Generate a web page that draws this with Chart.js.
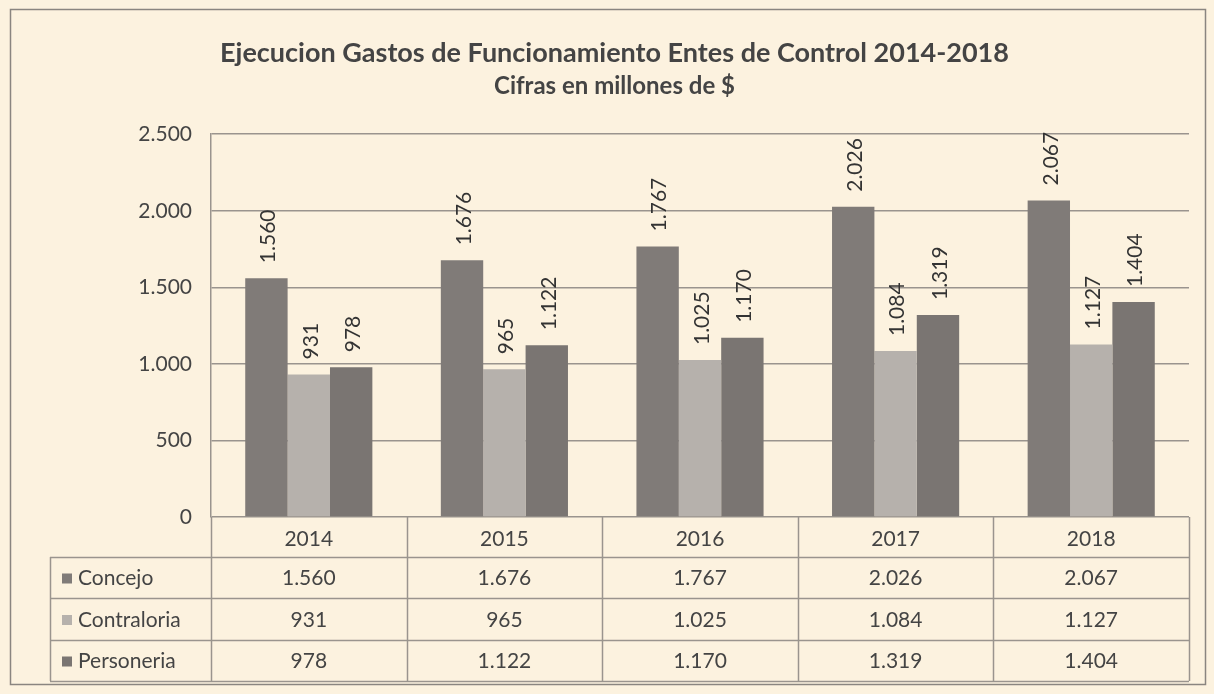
<!DOCTYPE html>
<html>
<head>
    <meta charset='utf-8'>
    <title>Ejecucion Gastos de Funcionamiento</title>
    <style>
        body { margin: 0; background: #fcf2df; }
    </style>
</head>
<body>
    <div style="width: 1214px; height: 694px;">
        <canvas id="chart-gastos" width="1214" height="694"></canvas>
    </div>

    <script src="https://cdn.jsdelivr.net/npm/chart.js"></script>
    <script>
const years = ['2014', '2015', '2016', '2017', '2018'];
const concejo = [1560, 1676, 1767, 2026, 2067];
const contraloria = [931, 965, 1025, 1084, 1127];
const personeria = [978, 1122, 1170, 1319, 1404];
const seriesNames = ['Concejo', 'Contraloria', 'Personeria'];
const seriesColors = ['#807b78', '#b6b1ac', '#7a7572'];

const FONT = 'Lato, "Open Sans", sans-serif';
const TEXT = '#444';
const LINE = '#9a948e';

// 1560 -> "1.560"
const fmt = (v) => String(v).replace(/\B(?=(\d{3})+(?!\d))/g, '.');

const fondo = {
    id: 'fondo',
    beforeDraw(chart) {
        const ctx = chart.ctx;
        ctx.save();
        ctx.fillStyle = '#fcf2df';
        ctx.fillRect(0, 0, chart.width, chart.height);
        ctx.strokeStyle = '#8a8580';
        ctx.lineWidth = 1.5;
        ctx.strokeRect(10.5, 9.5, 1195, 675);
        ctx.restore();
    }
};

const etiquetas = {
    id: 'etiquetas',
    afterDatasetsDraw(chart) {
        const ctx = chart.ctx;
        ctx.save();
        ctx.fillStyle = '#333';
        ctx.font = '21px ' + FONT;
        ctx.textAlign = 'left';
        ctx.textBaseline = 'middle';
        chart.data.datasets.forEach((ds, i) => {
            chart.getDatasetMeta(i).data.forEach((bar, j) => {
                ctx.save();
                ctx.translate(bar.x + 2, bar.y - 15);
                ctx.rotate(-Math.PI / 2);
                ctx.fillText(fmt(ds.data[j]), 0, 0);
                ctx.restore();
            });
        });
        ctx.restore();
    }
};

// tabla de datos bajo el eje x
const tabla = {
    id: 'tabla',
    afterDraw(chart) {
        const ctx = chart.ctx;
        const x = chart.scales.x;
        const area = chart.chartArea;
        const colW = (area.right - area.left) / years.length;
        const rows = [area.bottom, 557, 598, 640, 681];
        const legLeft = 50;
        ctx.save();
        ctx.strokeStyle = LINE;
        ctx.lineWidth = 1.5;
        ctx.beginPath();
        for (let i = 0; i <= years.length; i++) {
            const cx = Math.round(area.left + i * colW) + 0.5;
            ctx.moveTo(cx, area.bottom);
            ctx.lineTo(cx, rows[4]);
        }
        for (let r = 1; r < rows.length; r++) {
            ctx.moveTo(legLeft, rows[r] + 0.5);
            ctx.lineTo(area.right, rows[r] + 0.5);
        }
        ctx.moveTo(legLeft + 0.5, rows[1]);
        ctx.lineTo(legLeft + 0.5, rows[4]);
        ctx.stroke();

        ctx.font = '21px ' + FONT;
        ctx.fillStyle = TEXT;
        ctx.textBaseline = 'middle';
        ctx.textAlign = 'center';
        years.forEach((y, i) => {
            ctx.fillText(y, x.getPixelForValue(i), (rows[0] + rows[1]) / 2 + 2);
        });
        chart.data.datasets.forEach((ds, r) => {
            const cy = (rows[r + 1] + rows[r + 2]) / 2 + 1;
            ctx.textAlign = 'center';
            ctx.fillStyle = TEXT;
            ds.data.forEach((v, i) => {
                ctx.fillText(fmt(v), x.getPixelForValue(i), cy);
            });
            ctx.fillStyle = ds.backgroundColor;
            ctx.fillRect(legLeft + 12, cy - 5, 10, 10);
            ctx.fillStyle = TEXT;
            ctx.textAlign = 'left';
            ctx.fillText(ds.label, legLeft + 28, cy);
        });
        ctx.restore();
    }
};

const config = {
    type: 'bar',
    data: {
        labels: years,
        datasets: [
            { label: seriesNames[0], data: concejo, backgroundColor: seriesColors[0] },
            { label: seriesNames[1], data: contraloria, backgroundColor: seriesColors[1] },
            { label: seriesNames[2], data: personeria, backgroundColor: seriesColors[2] }
        ]
    },
    options: {
        responsive: false,
        animation: false,
        layout: {
            padding: { top: 0, left: 40, right: 25, bottom: 177 }
        },
        datasets: {
            bar: {
                categoryPercentage: 0.65,
                barPercentage: 1.0,
                borderWidth: 0
            }
        },
        scales: {
            x: {
                display: false
            },
            y: {
                min: 0,
                max: 2500,
                ticks: {
                    stepSize: 500,
                    padding: 19,
                    color: TEXT,
                    font: { family: FONT, size: 21 },
                    callback: (v) => fmt(v)
                },
                grid: {
                    color: LINE,
                    lineWidth: 1.5,
                    drawTicks: false
                },
                border: { color: LINE, width: 1.5 },
                afterFit(scale) {
                    scale.width = 171;
                }
            }
        },
        plugins: {
            legend: { display: false },
            tooltip: { enabled: false },
            title: {
                display: true,
                text: 'Ejecucion Gastos de Funcionamiento Entes de Control 2014-2018',
                color: TEXT,
                font: { family: FONT, size: 27, weight: 'bold' },
                padding: { top: 37, bottom: 2 }
            },
            subtitle: {
                display: true,
                text: 'Cifras en millones de $',
                color: TEXT,
                font: { family: FONT, size: 24, weight: 'bold' },
                padding: { top: 0, bottom: 34 }
            }
        }
    },
    plugins: [fondo, etiquetas, tabla]
};

new Chart(document.getElementById('chart-gastos'), config);
    </script>
</body>
</html>
